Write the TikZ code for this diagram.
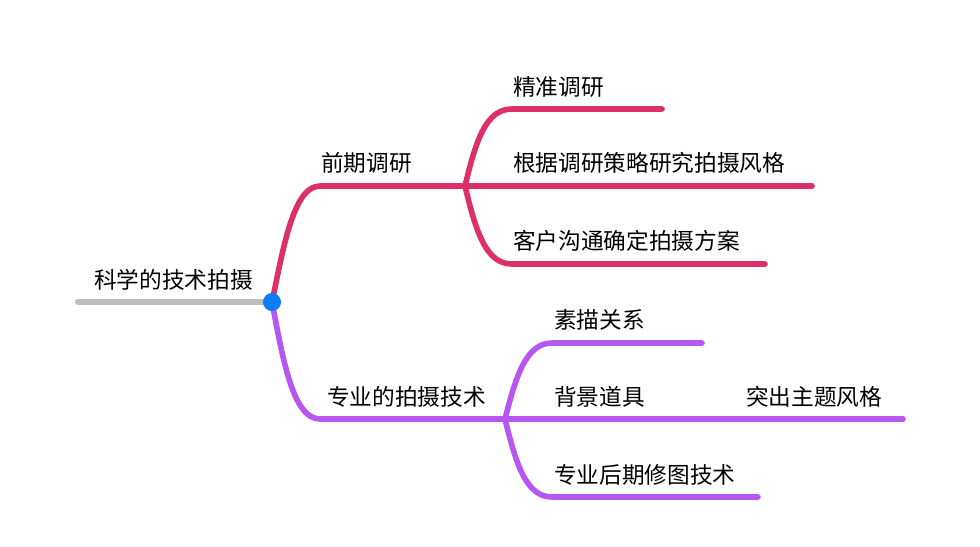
\documentclass[tikz,border=0pt]{standalone}
\usepackage{fontspec}
\setmainfont{Noto Sans CJK SC}
\usepackage{tikz}

\definecolor{rootgray}{RGB}{190,190,190}
\definecolor{dotblue}{RGB}{12,124,245}
\definecolor{pinkline}{RGB}{222,48,104}
\definecolor{purpline}{RGB}{182,88,240}

\tikzset{
  topic/.style={anchor=west,inner sep=0.75pt,font=\fontsize{17}{20}\selectfont},
  branch/.style={line width=4.2pt,line cap=round}
}

\begin{document}
\begin{tikzpicture}[x=0.75pt,y=0.75pt,yscale=-1,xscale=1]

\useasboundingbox (0,0) rectangle (980,546);

% junction points
\coordinate (root) at (272,302);
\coordinate (rstart) at (78,302);
\coordinate (pj) at (465,186);
\coordinate (vj) at (505,419);

\coordinate (p1end) at (662,109);
\coordinate (p2end) at (812,186);
\coordinate (p3end) at (765,264);

\coordinate (v1end) at (702,343);
\coordinate (v2end) at (903,419);
\coordinate (v3end) at (758,497);

% root line
\draw [rootgray,line width=4.5pt,line cap=round] (rstart) -- (root);

% first branch
\draw [pinkline,branch] (root) .. controls (283,250) and (293,186) .. (320,186) -- (pj);
\draw [pinkline,branch] (pj) .. controls (476,140) and (486,109) .. (512,109) -- (p1end);
\draw [pinkline,branch] (pj) -- (p2end);
\draw [pinkline,branch] (pj) .. controls (476,232) and (486,264) .. (512,264) -- (p3end);

% second branch
\draw [purpline,branch] (root) .. controls (283,360) and (293,419) .. (320,419) -- (vj);
\draw [purpline,branch] (vj) .. controls (516,376) and (526,343) .. (552,343) -- (v1end);
\draw [purpline,branch] (vj) -- (v2end);
\draw [purpline,branch] (vj) .. controls (516,464) and (526,497) .. (552,497) -- (v3end);

\fill [dotblue] (root) circle (9);

% labels
\node (rootlbl) at (93,280) [topic] {科学的技术拍摄};

\node (plbl) at (320,163) [topic] {前期调研};
\node (p1lbl) at (512,87) [topic] {精准调研};
\node (p2lbl) at (512,163) [topic] {根据调研策略研究拍摄风格};
\node (p3lbl) at (512,241) [topic] {客户沟通确定拍摄方案};

\node (vlbl) at (326,397) [topic] {专业的拍摄技术};
\node (v1lbl) at (553,320) [topic] {素描关系};
\node (v2lbl) at (553,397) [topic] {背景道具};
\node (v2alb) at (745,397) [topic] {突出主题风格};
\node (v3lbl) at (553,475) [topic] {专业后期修图技术};

\end{tikzpicture}
\end{document}
